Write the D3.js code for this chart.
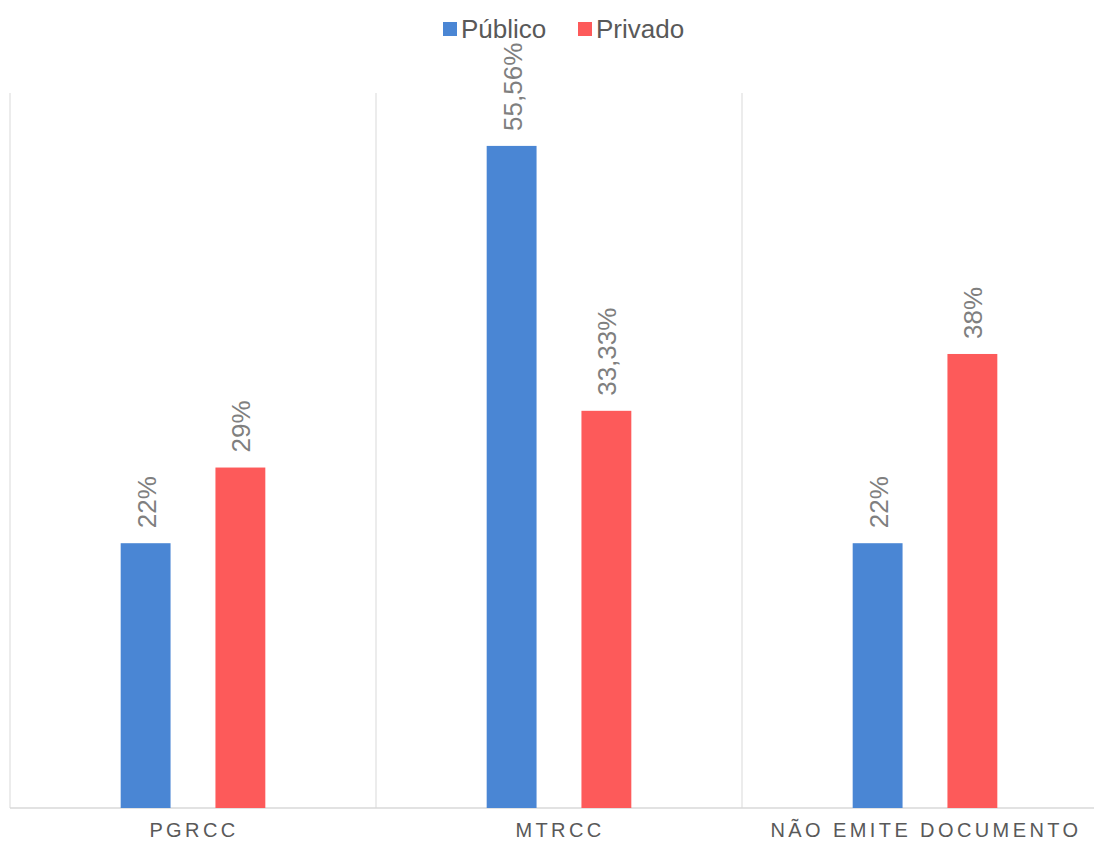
<!DOCTYPE html>
<html><head><meta charset="utf-8">
<script src="https://cdn.jsdelivr.net/npm/d3@7"></script>
<style>body{margin:0;background:#fff}svg{display:block}text{font-family:"Liberation Sans",Arial,sans-serif}</style>
</head><body><svg id="c" width="1094" height="841"></svg>
<script>
const categories = ["PGRCC", "MTRCC", "NÃO EMITE DOCUMENTO"];
const seriesNames = ["Público", "Privado"];
const publico = [22.22, 55.56, 22.22];
const privado = [28.57, 33.33, 38.1];
const publicoLabels = ["22%", "55,56%", "22%"];
const privadoLabels = ["29%", "33,33%", "38%"];
const colors = ["#4a86d4", "#fd5a5a"];
const yTicks = [0, 60];

const svg = d3.select("#c");
const pLeft = 10, pRight = 1108, pTop = 93, pBottom = 808;
const x0 = d3.scaleBand().domain(categories).range([pLeft, pRight]).paddingInner(0).paddingOuter(0);
const x1 = d3.scaleBand().domain(seriesNames).range([0, x0.bandwidth()]).paddingInner(0.4737).paddingOuter(1.168);
const y = d3.scaleLinear().domain([yTicks[0], yTicks[1]]).range([pBottom, pTop]);

// grid lines (category separators)
const seps = categories.map(c => x0(c)).concat([x0(categories[2]) + x0.bandwidth()]);
svg.selectAll(".sep").data(seps).enter().append("line")
  .attr("x1", d => d).attr("x2", d => d).attr("y1", pTop).attr("y2", pBottom)
  .attr("stroke", "#d9d9d9").attr("stroke-width", 1);
svg.append("line").attr("x1", pLeft).attr("x2", pRight).attr("y1", pBottom).attr("y2", pBottom)
  .attr("stroke", "#d9d9d9").attr("stroke-width", 1.5);

const series = [publico, privado];
const labels = [publicoLabels, privadoLabels];
series.forEach((vals, si) => {
  const g = svg.append("g");
  g.selectAll("rect").data(vals).enter().append("rect")
    .attr("x", (d, i) => x0(categories[i]) + x1(seriesNames[si]))
    .attr("y", d => y(d))
    .attr("width", x1.bandwidth())
    .attr("height", d => y(0) - y(d))
    .attr("fill", colors[si]);
  g.selectAll("text").data(vals).enter().append("text")
    .attr("transform", (d, i) => {
      const cx = x0(categories[i]) + x1(seriesNames[si]) + x1.bandwidth() / 2;
      return `translate(${cx + 10},${y(d) - 15}) rotate(-90)`;
    })
    .attr("text-anchor", "start")
    .attr("font-size", 26)
    .attr("fill", "#7f7f7f")
    .text((d, i) => labels[si][i]);
});

// category axis labels
svg.selectAll(".cat").data(categories).enter().append("text")
  .attr("x", d => x0(d) + x0.bandwidth() / 2 + 1)
  .attr("y", 837)
  .attr("text-anchor", "middle")
  .attr("font-size", 20)
  .attr("letter-spacing", "3.4px")
  .attr("fill", "#595959")
  .text(d => d);

// legend
const legend = [{n: seriesNames[0], c: colors[0], x: 443}, {n: seriesNames[1], c: colors[1], x: 578}];
legend.forEach(l => {
  svg.append("rect").attr("x", l.x).attr("y", 22).attr("width", 14).attr("height", 14).attr("fill", l.c);
  svg.append("text").attr("x", l.x + 18).attr("y", 38).attr("font-size", 26).attr("fill", "#595959").text(l.n);
});
</script></body></html>
